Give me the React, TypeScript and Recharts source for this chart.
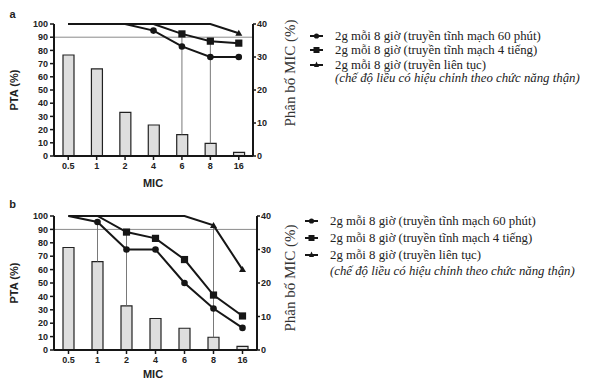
import React from 'react';
import { ComposedChart, Bar, Line, XAxis, YAxis, ReferenceLine, Legend, Label } from 'recharts';

const micLabels = ['0.5', '1', '2', '4', '6', '8', '16'];
const micDistribution = [30.6, 26.4, 13.2, 9.4, 6.5, 3.8, 1.1];

const ptaA60 = [100, 100, 100, 95, 83, 75, 75];
const ptaA4h = [100, 100, 100, 100, 92.5, 87, 85.5];
const ptaAcont = [100, 100, 100, 100, 100, 100, 93];

const ptaB60 = [100, 95.5, 75, 75, 50, 31, 16.5];
const ptaB4h = [100, 100, 88, 83.3, 67.5, 41, 25.4];
const ptaBcont = [100, 100, 100, 100, 100, 93, 60];

const leftTicks = [0, 10, 20, 30, 40, 50, 60, 70, 80, 90, 100];
const rightTicks = [0, 10, 20, 30, 40];
const targetPTA = 90;

const seriesNames = [
  '2g mỗi 8 giờ (truyền tĩnh mạch 60 phút)',
  '2g mỗi 8 giờ (truyền tĩnh mạch 4 tiếng)',
  '2g mỗi 8 giờ (truyền liên tục)',
];
const noteText = '(chế độ liều có hiệu chỉnh theo chức năng thận)';

const dropLinesA = [
  { mic: '6', key: 'p4h' },
  { mic: '8', key: 'p4h' },
];
const dropLinesB = [
  { mic: '1', key: 'p60' },
  { mic: '2', key: 'p4h' },
  { mic: '8', key: 'pCont' },
];

const buildRows = (p60: number[], p4h: number[], pCont: number[]) =>
  micLabels.map((mic, i) => ({ mic, dist: micDistribution[i], p60: p60[i], p4h: p4h[i], pCont: pCont[i] }));

const dataA = buildRows(ptaA60, ptaA4h, ptaAcont);
const dataB = buildRows(ptaB60, ptaB4h, ptaBcont);

const INK = '#161616';
const SANS = "'Liberation Sans', Arial, sans-serif";
const SERIF = "'Liberation Serif', 'Times New Roman', serif";

const CircleDot = (p: any) =>
  p.cx == null || p.value >= 100 ? null : <circle key={p.index} cx={p.cx} cy={p.cy} r={3.3} fill={INK} />;
const SquareDot = (p: any) =>
  p.cx == null || p.value >= 100 ? null : (
    <rect key={p.index} x={p.cx - 3.6} y={p.cy - 3.6} width={7.2} height={7.2} fill={INK} />
  );
const TriDot = (p: any) =>
  p.cx == null || p.value >= 100 ? null : (
    <path key={p.index} d={`M${p.cx},${p.cy - 3.5} L${p.cx + 3.5},${p.cy + 2.5} L${p.cx - 3.5},${p.cy + 2.5} Z`} fill={INK} />
  );

const LegendIcon = ({ kind }: { kind: number }) => (
  <svg width={17} height={10} style={{ display: 'inline-block', verticalAlign: 'middle', marginRight: 10 }}>
    <line x1={2} y1={5} x2={15} y2={5} stroke={INK} strokeWidth={2} />
    {kind === 0 && <circle cx={8.5} cy={5} r={2.6} fill={INK} />}
    {kind === 1 && <rect x={5.5} y={2} width={6} height={6} fill={INK} />}
    {kind === 2 && <path d="M8.5,1.5 L11,7 L6,7 Z" fill={INK} />}
  </svg>
);

type PanelProps = {
  data: any[];
  letter: string;
  drops: { mic: string; key: string }[];
  marginTop: number;
  marginRight: number;
  xAxisHeight: number;
  height: number;
  marginBottom: number;
  rightLabelY: number;
  micLabelY: number;
  legendLeft: number;
  legendTop: number;
  legendLine: number;
};

const Panel = (pp: PanelProps) => {
  const { data, letter, drops } = pp;
  return (
    <ComposedChart
      width={610}
      height={pp.height}
      data={data}
      margin={{ top: pp.marginTop, right: pp.marginRight, bottom: pp.marginBottom, left: 0 }}
      style={{ overflow: 'visible' }}
    >
      <XAxis
        dataKey="mic"
        xAxisId={0}
        height={pp.xAxisHeight}
        interval={0}
        axisLine={{ stroke: INK, strokeWidth: 2 }}
        tickLine={{ stroke: INK, strokeWidth: 1.5 }}
        tickSize={4}
        tickMargin={3}
        tick={{ fontSize: 9, fontWeight: 'bold', fill: '#222', fontFamily: SANS }}
      >
        <Label
          content={() => (
            <text x={153} y={pp.micLabelY} textAnchor="middle" fontSize={11} fontWeight="bold" fill="#222" fontFamily={SANS}>
              MIC
            </text>
          )}
        />
      </XAxis>
      <YAxis
        yAxisId="left"
        width={54}
        domain={[0, 100]}
        ticks={leftTicks}
        interval={0}
        axisLine={{ stroke: INK, strokeWidth: 2 }}
        tickLine={{ stroke: INK, strokeWidth: 1.5 }}
        tickSize={4}
        tickMargin={2}
        tick={{ fontSize: 9, fontWeight: 'bold', fill: '#222', fontFamily: SANS }}
      >
        <Label
          content={(props: any) => {
            const vb = props.viewBox;
            const cy = vb.y + vb.height / 2;
            return (
              <g>
                <text
                  x={14}
                  y={cy}
                  transform={`rotate(-90, 14, ${cy})`}
                  textAnchor="middle"
                  dominantBaseline="central"
                  fontSize={11}
                  fontWeight="bold"
                  fill="#222"
                  fontFamily={SANS}
                >
                  PTA (%)
                </text>
                <text x={12.5} y={18} textAnchor="middle" fontSize={11} fontWeight="bold" fill="#222" fontFamily={SANS}>
                  {letter}
                </text>
              </g>
            );
          }}
        />
      </YAxis>
      <YAxis
        yAxisId="right"
        orientation="right"
        width={40}
        domain={[0, 40]}
        ticks={rightTicks}
        interval={0}
        axisLine={{ stroke: INK, strokeWidth: 2 }}
        tickLine={{ stroke: INK, strokeWidth: 1.5 }}
        tickSize={3}
        tickMargin={1}
        tick={{ fontSize: 9, fontWeight: 'bold', fill: '#222', fontFamily: SANS }}
      >
        <Label
          content={() => (
            <text
              x={290}
              y={pp.rightLabelY}
              transform={`rotate(-90, 290, ${pp.rightLabelY})`}
              textAnchor="middle"
              dominantBaseline="central"
              fontSize={15}
              fill="#333"
              fontFamily={SERIF}
            >
              Phân bố MIC (%)
            </text>
          )}
        />
      </YAxis>
      <Bar yAxisId="right" dataKey="dist" barSize={11} fill="#dedede" stroke="#222" strokeWidth={1.2} isAnimationActive={false} />
      <ReferenceLine yAxisId="left" y={targetPTA} stroke="#8a8a8a" strokeWidth={1} />
      {drops.map((d, i) => {
        const row = data.find((r) => r.mic === d.mic);
        return (
          <ReferenceLine
            key={i}
            yAxisId="left"
            stroke="#6a6a6a"
            strokeWidth={0.9}
            segment={[
              { x: d.mic, y: row[d.key] },
              { x: d.mic, y: (row.dist * 100) / 40 },
            ]}
          />
        );
      })}
      <Line yAxisId="left" type="linear" dataKey="pCont" stroke={INK} strokeWidth={2} dot={TriDot} activeDot={false} isAnimationActive={false} />
      <Line yAxisId="left" type="linear" dataKey="p4h" stroke={INK} strokeWidth={2} dot={SquareDot} activeDot={false} isAnimationActive={false} />
      <Line yAxisId="left" type="linear" dataKey="p60" stroke={INK} strokeWidth={2} dot={CircleDot} activeDot={false} isAnimationActive={false} />
      <Legend
        layout="vertical"
        align="center"
        verticalAlign="middle"
        wrapperStyle={{ left: pp.legendLeft, top: pp.legendTop, width: 300 }}
        content={() => (
          <div
            style={{
              fontFamily: SERIF,
              fontSize: 12.8,
              color: '#222',
              lineHeight: `${pp.legendLine}px`,
              whiteSpace: 'nowrap',
            }}
          >
            {seriesNames.map((n, i) => (
              <div key={i} style={{ height: pp.legendLine }}>
                <LegendIcon kind={i} />
                <span style={{ verticalAlign: 'middle' }}>{n}</span>
              </div>
            ))}
            <div style={{ height: pp.legendLine, paddingLeft: 27, fontStyle: 'italic' }}>{noteText}</div>
          </div>
        )}
      />
    </ComposedChart>
  );
};

export default function App() {
  return (
    <div style={{ position: 'absolute', left: 0, top: 0, width: 610, height: 380, background: '#fff', overflow: 'hidden' }}>
      <div style={{ position: 'absolute', left: 0, top: 0 }}>
        <Panel
          data={dataA}
          letter="a"
          drops={dropLinesA}
          height={190}
          marginTop={24}
          marginRight={317}
          marginBottom={4}
          xAxisHeight={30}
          rightLabelY={73}
          micLabelY={187}
          legendLeft={308}
          legendTop={27.5}
          legendLine={14.5}
        />
      </div>
      <div style={{ position: 'absolute', left: 0, top: 190 }}>
        <Panel
          data={dataB}
          letter="b"
          drops={dropLinesB}
          height={200}
          marginTop={26}
          marginRight={313}
          marginBottom={14}
          xAxisHeight={26}
          rightLabelY={88}
          micLabelY={188}
          legendLeft={303}
          legendTop={21.5}
          legendLine={17}
        />
      </div>
    </div>
  );
}
